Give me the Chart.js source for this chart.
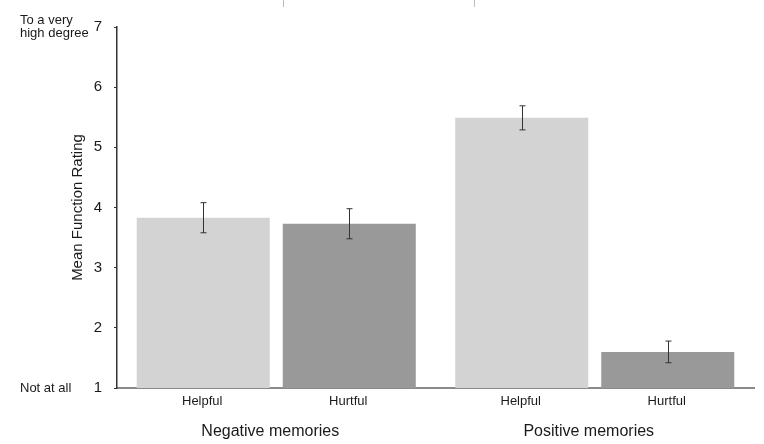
<!DOCTYPE html>
<html>
<head>
<meta charset="utf-8">
<script src="https://cdn.jsdelivr.net/npm/chart.js@4/dist/chart.umd.min.js"></script>
<style>
  html, body { margin: 0; padding: 0; background: #fff; }
  #wrap { position: relative; width: 764px; height: 444px; }
  .edge { position: absolute; top: 0; width: 1px; height: 7px; background: #bbb; }
</style>
</head>
<body>
<div id="wrap">
  <canvas id="c"></canvas>
  <div class="edge" style="left:283px"></div>
  <div class="edge" style="left:474px"></div>
</div>
<script>
// ---- data ----
const groups = ["Negative memories", "Positive memories"];
const seriesNames = ["Helpful", "Hurtful"];
const helpfulMeans = [3.83, 5.49];
const hurtfulMeans = [3.73, 1.60];
const helpfulErr = [0.25, 0.20];
const hurtfulErr = [0.25, 0.18];
const yTickValues = [1, 2, 3, 4, 5, 6, 7];
const anchorValues = [1, 7];
const anchorLabels = [["Not at all"], ["To a very", "high degree"]];
const yTitle = "Mean Function Rating";

const FONT = "'Liberation Sans', Arial, Helvetica, sans-serif";
const TEXT = "#1a1a1a";

const errorBars = {
  id: 'errorBars',
  afterDatasetsDraw(chart) {
    const ctx = chart.ctx;
    const y = chart.scales.y;
    ctx.save();
    ctx.strokeStyle = '#333';
    ctx.lineWidth = 1;
    chart.data.datasets.forEach((ds, di) => {
      const meta = chart.getDatasetMeta(di);
      meta.data.forEach((bar, i) => {
        const m = ds.data[i], e = ds.errors[i];
        const x = Math.round(bar.x) + 0.5;
        const yt = y.getPixelForValue(m + e);
        const yb = y.getPixelForValue(m - e);
        ctx.beginPath();
        ctx.moveTo(x, yt); ctx.lineTo(x, yb);
        ctx.moveTo(x - 3, yt); ctx.lineTo(x + 3, yt);
        ctx.moveTo(x - 3, yb); ctx.lineTo(x + 3, yb);
        ctx.stroke();
      });
    });
    ctx.restore();
  }
};

const seriesLabels = {
  id: 'seriesLabels',
  afterDraw(chart) {
    const ctx = chart.ctx;
    ctx.save();
    ctx.font = "13px " + FONT;
    ctx.fillStyle = TEXT;
    ctx.textAlign = 'center';
    ctx.textBaseline = 'middle';
    const yPos = chart.chartArea.bottom + 13;
    chart.data.datasets.forEach((ds, di) => {
      chart.getDatasetMeta(di).data.forEach(bar => {
        ctx.fillText(ds.label, bar.x - 1, yPos);
      });
    });
    ctx.restore();
  }
};

new Chart(document.getElementById('c'), {
  type: 'bar',
  data: {
    labels: groups,
    datasets: [
      { label: seriesNames[0], data: helpfulMeans, errors: helpfulErr, backgroundColor: '#d3d3d3', borderWidth: 0 },
      { label: seriesNames[1], data: hurtfulMeans, errors: hurtfulErr, backgroundColor: '#999999', borderWidth: 0 }
    ]
  },
  options: {
    responsive: true,
    maintainAspectRatio: false,
    animation: false,
    devicePixelRatio: 1,
    layout: { padding: { left: 20, right: 10, top: 27, bottom: 0 } },
    categoryPercentage: 0.917,
    barPercentage: 0.911,
    plugins: { legend: { display: false }, tooltip: { enabled: false } },
    scales: {
      x: {
        type: 'category',
        offset: true,
        grid: { display: false, drawTicks: false },
        border: { display: true, color: '#8a8a8a', width: 2 },
        ticks: { color: TEXT, font: { family: FONT, size: 16 }, padding: 34, maxRotation: 0, labelOffset: -6 },
        afterFit(s) { s.height = 56; }
      },
      y: {
        type: 'linear',
        min: 1, max: 7,
        weight: 0,
        grid: { display: true, drawOnChartArea: false, drawTicks: true, tickLength: 3, color: '#333' },
        border: { display: true, color: '#333', width: 1.5 },
        afterBuildTicks(s) { s.ticks = yTickValues.map(v => ({ value: v })); },
        ticks: { color: TEXT, font: { family: FONT, size: 15 }, padding: 12 },
        afterFit(s) { s.width = 24; }
      },
      y2: {
        type: 'linear',
        position: 'left',
        min: 1, max: 7,
        weight: 1,
        grid: { display: false },
        border: { display: false },
        afterBuildTicks(s) { s.ticks = anchorValues.map(v => ({ value: v })); },
        ticks: {
          color: TEXT,
          crossAlign: 'far',
          autoSkip: false,
          font: { family: FONT, size: 13, lineHeight: 1.05 },
          callback(v) { const k = anchorValues.indexOf(v); return k >= 0 ? anchorLabels[k] : ''; }
        },
        title: {
          display: true,
          text: yTitle,
          color: TEXT,
          font: { family: FONT, size: 15 },
          padding: { top: 49, bottom: 0 }
        },
        afterFit(s) { s.width = 73; }
      }
    }
  },
  plugins: [errorBars, seriesLabels]
});
</script>
</body>
</html>
